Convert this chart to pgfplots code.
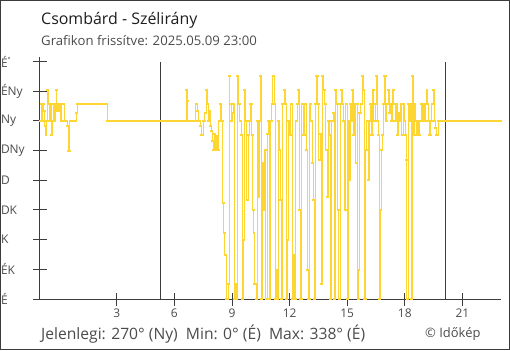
\documentclass[border=0pt]{standalone}
\usepackage{fontspec}
\setmainfont{Open Sans}
\usepackage{pgfplots}
\usepackage{pgfplotstable}
\pgfplotsset{compat=1.18}
\definecolor{wind}{RGB}{253,214,51}
\definecolor{axisc}{RGB}{60,60,60}
\definecolor{txt}{RGB}{75,75,75}
\definecolor{titlec}{RGB}{30,30,30}

\pgfplotstableread{
h deg
-1.00 270
-0.95 296
-0.90 270
-0.86 296
-0.81 285
-0.76 262
-0.71 249
-0.67 270
-0.62 317
-0.58 296
-0.52 270
-0.47 296
-0.43 249
-0.38 270
-0.32 296
-0.26 270
-0.21 296
-0.17 317
-0.14 285
-0.09 296
-0.04 285
0.01 296
0.07 270
0.13 296
0.27 270
0.40 262
0.47 224
0.54 270
0.88 282
0.93 296
2.48 270
6.60 317
6.65 300
6.69 270
7.11 296
7.17 285
7.24 270
7.35 262
7.40 249
7.50 270
7.58 282
7.64 317
7.70 296
7.75 270
7.81 285
7.86 262
7.92 255
7.97 240
8.02 226
8.07 250
8.12 226
8.18 247
8.24 226
8.30 270
8.38 296
8.44 270
8.52 146
8.57 100
8.62 67
8.68 0
8.80 23
8.84 338
8.88 296
8.94 270
9.00 282
9.05 296
9.12 0
9.18 23
9.22 0
9.28 338
9.33 296
9.40 270
9.46 249
9.52 0
9.58 90
9.63 317
9.70 270
9.77 150
9.83 249
9.90 270
9.96 296
10.02 249
10.07 135
10.12 100
10.17 23
10.24 0
10.30 270
10.35 155
10.40 270
10.46 338
10.52 0
10.58 207
10.64 135
10.70 226
10.76 0
10.82 250
10.88 270
10.94 0
11.00 270
11.06 296
11.12 338
11.18 296
11.24 0
11.30 44
11.34 0
11.40 270
11.46 226
11.52 150
11.56 0
11.62 296
11.70 317
11.76 296
11.82 0
11.88 90
11.92 270
11.98 249
12.05 296
12.12 0
12.20 67
12.26 0
12.32 270
12.38 296
12.44 317
12.50 135
12.55 0
12.62 296
12.70 249
12.78 296
12.86 226
12.92 44
12.96 0
13.04 296
13.10 270
13.16 207
13.22 150
13.28 0
13.34 296
13.40 338
13.46 296
13.52 211
13.58 250
13.64 23
13.70 338
13.76 317
13.82 296
13.88 226
13.94 155
14.00 270
14.06 249
14.12 0
14.18 270
14.26 282
14.32 0
14.38 317
14.44 296
14.50 135
14.55 0
14.62 296
14.68 317
14.74 296
14.80 270
14.86 135
14.92 296
14.98 0
15.04 270
15.10 181
15.15 296
15.20 270
15.26 317
15.32 249
15.38 296
15.44 207
15.50 296
15.55 0
15.60 44
15.64 282
15.70 296
15.76 338
15.82 317
15.88 0
15.96 226
16.02 270
16.08 181
16.14 270
16.20 296
16.26 249
16.32 317
16.38 270
16.44 296
16.50 338
16.56 270
16.62 249
16.66 0
16.70 135
16.76 226
16.82 249
16.88 296
16.94 338
17.00 270
17.06 296
17.12 317
17.18 282
17.24 296
17.30 270
17.36 317
17.42 296
17.48 270
17.54 296
17.60 249
17.66 282
17.72 270
17.78 296
17.84 249
17.90 296
17.96 270
18.02 249
18.06 211
18.10 0
18.16 296
18.22 270
18.28 296
18.34 0
18.38 338
18.42 249
18.48 296
18.54 270
18.60 249
18.66 270
18.72 249
18.78 270
18.84 296
18.90 270
18.96 296
19.02 270
19.08 296
19.14 317
19.18 296
19.22 270
19.28 249
19.34 270
19.40 296
19.46 317
19.52 270
19.58 260
19.64 249
19.72 270
23.00 270
}\wdata

\begin{document}
\begin{tikzpicture}[x=1bp,y=1bp]
\useasboundingbox (-40,-51) rectangle (470,299);
\draw[axisc, line width=1.2bp] (-39.4,-50.4) rectangle (469.4,298.4);
\node[anchor=base west, text=titlec, font=\fontsize{16}{19}\selectfont, inner sep=0pt] at (1,275) {Csombárd - Szélirány};
\node[anchor=base west, text=txt, font=\fontsize{13.2}{15}\selectfont, inner sep=0pt] at (1,254) {Grafikon frissítve: 2025.05.09 23:00};
\begin{axis}[
  at={(0,0)}, anchor=south west,
  scale only axis, width=460.8bp, height=242bp,
  xmin=-1, xmax=23, ymin=0, ymax=367,
  axis lines*=left,
  axis line style={axisc, line width=1bp},
  xtick={3,6,...,21}, ytick={0,45,...,360},
  yticklabels={É,ÉK,K,DK,D,DNy,Ny,ÉNy,É\raisebox{0.8ex}{\scriptsize °}},
  tick align=center, major tick length=13bp,
  tick style={axisc, line width=1bp},
  /pgf/number format/assume math mode=true,
  xticklabel style={font=\fontsize{12}{14}\selectfont, text=txt},
  yticklabel style={anchor=west, xshift=-36bp, font=\fontsize{12}{14}\selectfont, text=txt},
  clip=false,
]
\addplot[axisc, line width=1bp] coordinates {(5.3,0) (5.3,360)};
\addplot[axisc, line width=1bp] coordinates {(20.13,0) (20.13,360)};
\addplot[wind, line width=0.6bp, const plot] table[x=h, y=deg] {\wdata};
\addplot[wind, line width=2bp, jump mark left, line cap=rect] table[x=h, y=deg] {\wdata};
\end{axis}
\node[anchor=base west, text=txt, font=\fontsize{15.7}{18}\selectfont, inner sep=0pt] at (1,-40) {Jelenlegi: 270° (Ny)\ \ Min: 0° (É)\ \ Max: 338° (É)};
\node[anchor=base west, text=txt, font=\fontsize{13}{15}\selectfont, inner sep=0pt] at (385,-38) {© Időkép};
\end{tikzpicture}
\end{document}
